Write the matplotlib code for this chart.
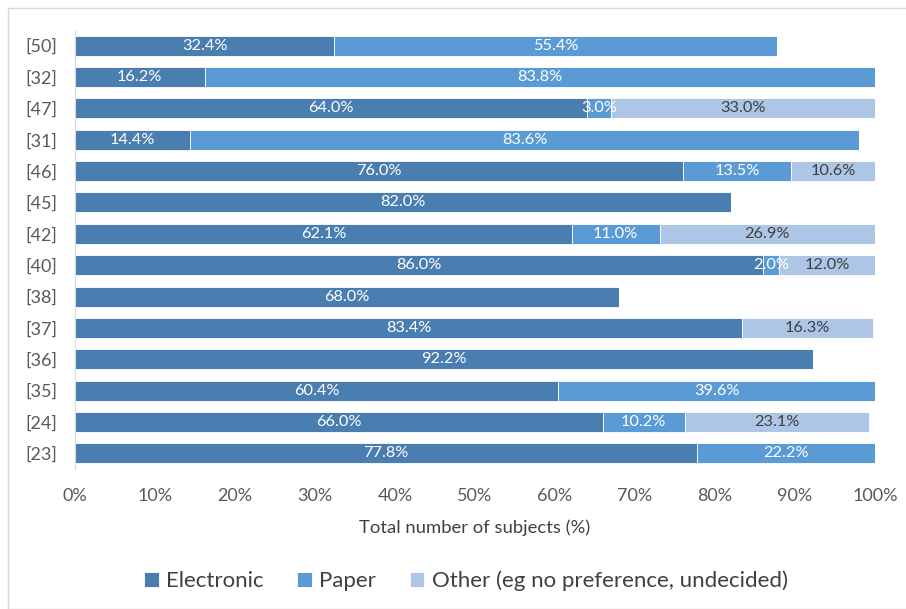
import numpy as np
import matplotlib
matplotlib.use('Agg')
import matplotlib.pyplot as plt
from matplotlib.patches import Rectangle

plt.rcParams['font.family'] = ['Lato', 'DejaVu Sans']

# rows top to bottom
studies = ['[50]', '[32]', '[47]', '[31]', '[46]', '[45]', '[42]', '[40]',
           '[38]', '[37]', '[36]', '[35]', '[24]', '[23]']
electronic = [32.4, 16.2, 64.0, 14.4, 76.0, 82.0, 62.1, 86.0, 68.0, 83.4, 92.2, 60.4, 66.0, 77.8]
paper = [55.4, 83.8, 3.0, 83.6, 13.5, 0, 11.0, 2.0, 0, 0, 0, 39.6, 10.2, 22.2]
other = [0, 0, 33.0, 0, 10.6, 0, 26.9, 12.0, 0, 16.3, 0, 0, 23.1, 0]

series = [('Electronic', electronic, '#4a7eb0', 'white'),
          ('Paper', paper, '#5b9bd5', 'white'),
          ('Other (eg no preference, undecided)', other, '#adc6e6', '#404040')]

fig = plt.figure(figsize=(9.06, 6.09), dpi=100)
fig.patches.append(Rectangle((8 / 906, 0.0), 1.0, 1 - 8 / 609, transform=fig.transFigure,
                             fill=False, edgecolor='#d9d9d9', linewidth=1.0))
ax = fig.add_axes([75 / 906, 1 - 469 / 609, 800 / 906, 439 / 609])

y = np.arange(len(studies))
left = np.zeros(len(studies))
for name, vals, color, tcol in series:
    vals = np.array(vals)
    ax.barh(y, vals, left=left, height=0.64, color=color, label=name,
            edgecolor='white', linewidth=0.6)
    for yi, l, v in zip(y, left, vals):
        if v > 0:
            ax.text(l + v / 2, yi, f'{v:.1f}%', ha='center', va='center',
                    fontsize=11.8, color=tcol)
    left += vals

ax.set_ylim(len(studies) - 0.5, -0.5)
ax.set_xlim(0, 100)
ax.set_yticks(y)
ax.set_yticklabels(studies, fontsize=13, color='#595959')
ax.set_xticks(np.arange(0, 101, 10))
ax.set_xticklabels([f'{t}%' for t in range(0, 101, 10)], fontsize=13, color='#595959')
ax.tick_params(axis='x', length=0, pad=14)
ax.tick_params(axis='y', length=0, pad=13)
for s in ['top', 'right', 'bottom']:
    ax.spines[s].set_visible(False)
ax.spines['left'].set_color('#d9d9d9')
ax.set_xlabel('Total number of subjects (%)', fontsize=13.3, color='#404040', labelpad=11)

ax.legend(loc='center', bbox_to_anchor=(466 / 906, 1 - 581 / 609), bbox_transform=fig.transFigure,
          ncol=3, frameon=False, fontsize=16, handlelength=0.65, handleheight=0.65,
          handletextpad=0.35, columnspacing=1.5, labelcolor='#404040')

fig.savefig('out.png', dpi=100)
